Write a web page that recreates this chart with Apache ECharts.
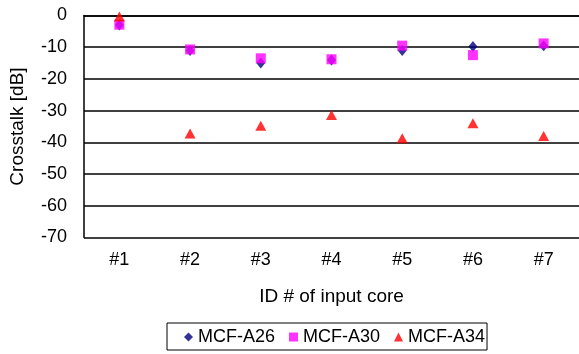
<!DOCTYPE html>
<html><head><meta charset="utf-8">
<script src="https://cdn.jsdelivr.net/npm/echarts@6/dist/echarts.min.js"></script>
<style>html,body{margin:0;padding:0;background:#fff}#c{width:579px;height:354px}</style>
</head><body><div id="c"></div>
<script>
const categories = ['#1','#2','#3','#4','#5','#6','#7'];
const mcfA26 = [-3, -11, -15, -14, -11, -9.8, -9.5];
const mcfA30 = [-2.9, -10.7, -13.5, -13.8, -9.5, -12.5, -8.8];
const mcfA34 = [-0.3, -37.2, -34.8, -31.4, -38.7, -34, -38];
const yTicks = { min: -70, max: 0, interval: 10 };

const font = 'Liberation Sans, Arial, sans-serif';
const chart = echarts.init(document.getElementById('c'), null, {renderer:'canvas'});
chart.setOption({
  animation: false,
  backgroundColor: '#fff',
  grid: { left: 84, top: 15.5, width: 498, height: 222 },
  legend: {
    left: 167, top: 323,
    itemGap: 14, itemWidth: 9, itemHeight: 9,
    padding: [5, 2, 4, 17],
    borderColor: '#000', borderWidth: 1,
    textStyle: { fontFamily: font, fontSize: 18, color: '#000' },
    data: [
      { name: 'MCF-A26', icon: 'diamond' },
      { name: 'MCF-A30', icon: 'rect' },
      { name: 'MCF-A34', icon: 'triangle' }
    ]
  },
  xAxis: {
    type: 'category', data: categories, boundaryGap: true,
    name: 'ID # of input core', nameLocation: 'middle', nameGap: 50,
    nameTextStyle: { fontFamily: font, fontSize: 19, color: '#000' },
    axisLine: { lineStyle: { color: '#000', width: 1.5 } },
    axisTick: { inside: true, length: 5, lineStyle: { color: '#000', width: 1 } },
    axisLabel: { fontFamily: font, fontSize: 18, color: '#000', margin: 14 },
    splitLine: { show: false }
  },
  yAxis: {
    type: 'value', min: yTicks.min, max: yTicks.max, interval: yTicks.interval,
    name: 'Crosstalk [dB]', nameLocation: 'middle', nameGap: 57, nameRotate: 90,
    nameTextStyle: { fontFamily: font, fontSize: 19, color: '#000' },
    axisLine: { show: true, lineStyle: { color: '#000', width: 1.5 } },
    axisTick: { show: false },
    axisLabel: { fontFamily: font, fontSize: 18, color: '#000', margin: 17 },
    splitLine: { show: true, lineStyle: { color: '#000', width: 1.5 } }
  },
  series: [
    { name: 'MCF-A26', type: 'scatter', data: mcfA26, symbol: 'diamond', symbolSize: [9, 11],
      itemStyle: { color: '#000080' }, z: 2 },
    { name: 'MCF-A30', type: 'scatter', data: mcfA30, symbol: 'rect', symbolSize: 10,
      itemStyle: { color: '#FF00FF' }, z: 3 },
    { name: 'MCF-A34', type: 'scatter', data: mcfA34, symbol: 'triangle', symbolSize: [11, 10],
      itemStyle: { color: '#FF0000' }, z: 4 }
  ]
});
</script></body></html>
